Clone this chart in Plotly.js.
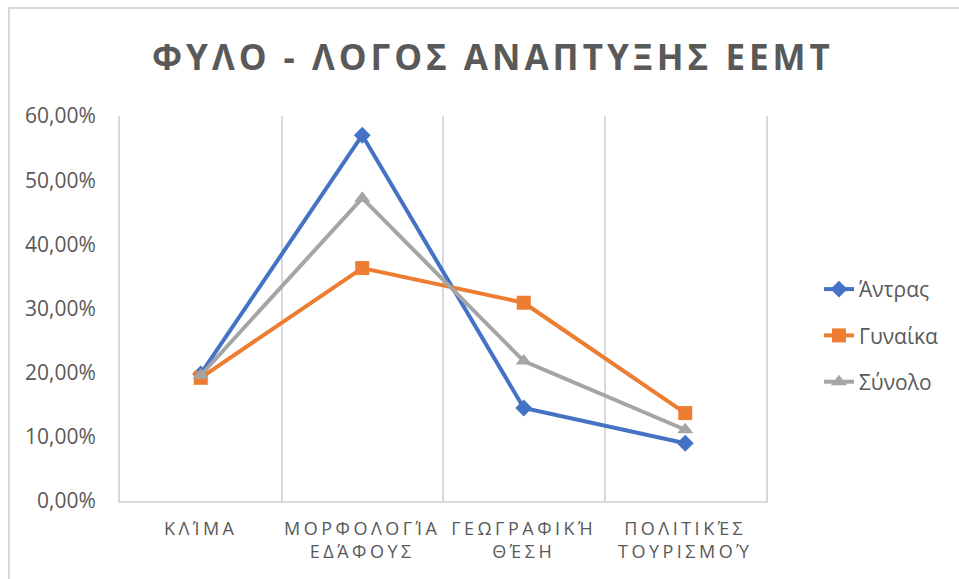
<!DOCTYPE html>
<html>
<head>
<meta charset="utf-8">
<script src="https://cdn.plot.ly/plotly-3.0.1.min.js"></script>
<style>
  body { margin: 0; padding: 0; background: #fff; }
  #wrap { position: relative; width: 959px; height: 579px; }
  #chart { position: absolute; left: 0; top: 0; width: 959px; height: 579px; }
  #frame { position: absolute; left: 8px; top: 7px; width: 960px; height: 600px;
           border-left: 2px solid #d9d9d9; border-top: 2px solid #d9d9d9; pointer-events: none; }
  .gtitle { letter-spacing: 4px; }
  .xtick text { letter-spacing: 3.5px; }
</style>
</head>
<body>
<div id="wrap">
  <div id="chart"></div>
  <div id="frame"></div>
</div>
<script>
const categories = ["ΚΛΊΜΑ", "ΜΟΡΦΟΛΟΓΊΑ<br>ΕΔΆΦΟΥΣ", "ΓΕΩΓΡΑΦΙΚΉ<br>ΘΈΣΗ", "ΠΟΛΙΤΙΚΈΣ<br>ΤΟΥΡΙΣΜΟΎ"];
const seriesNames = ["Άντρας", "Γυναίκα", "Σύνολο"];
const andras = [0.198, 0.570, 0.145, 0.090];
const gynaika = [0.192, 0.363, 0.309, 0.137];
const synolo = [0.196, 0.472, 0.218, 0.111];
const yTicks = [0, 0.1, 0.2, 0.3, 0.4, 0.5, 0.6];

const fontFam = "'Open Sans', 'Noto Sans', sans-serif";
const textColor = "#595959";

const traces = [
  { x: categories, y: andras, name: seriesNames[0], type: "scatter", mode: "lines+markers", legendgroup: "a",
    line: { color: "#4472C4", width: 4 }, marker: { symbol: "diamond", size: 13, color: "#4472C4" } },
  { x: categories, y: gynaika, name: seriesNames[1], type: "scatter", mode: "lines+markers", legendgroup: "b",
    line: { color: "#ED7D31", width: 4 }, marker: { symbol: "square", size: 14, color: "#ED7D31" } },
  { x: categories, y: synolo, name: seriesNames[2], type: "scatter", mode: "lines+markers", legendgroup: "c",
    line: { color: "#A5A5A5", width: 4 }, marker: { symbol: "triangle-up", size: 14, color: "#A5A5A5" } }
];

const layout = {
  width: 959, height: 579,
  margin: { l: 120, r: 193, t: 116, b: 78 },
  paper_bgcolor: "rgba(0,0,0,0)",
  plot_bgcolor: "#fff",
  separators: ",.",
  hovermode: false,
  title: {
    text: "<b>ΦΥΛΟ - ΛΟΓΟΣ ΑΝΑΠΤΥΞΗΣ ΕΕΜΤ</b>",
    font: { family: fontFam, size: 35, color: textColor },
    x: 0.514, xanchor: "center", y: 0.9, yanchor: "middle", yref: "container"
  },
  xaxis: {
    type: "category",
    range: [-0.5, 3.5],
    tickson: "boundaries",
    showgrid: true, gridcolor: "#d9d9d9", gridwidth: 2,
    showline: true, linecolor: "#d9d9d9", linewidth: 2,
    ticks: "", zeroline: false, ticklabelstandoff: 10,
    tickfont: { family: fontFam, size: 18, color: textColor },
    fixedrange: true
  },
  yaxis: {
    range: [0, 0.6],
    tickvals: yTicks,
    tickformat: ".2%",
    showgrid: false, zeroline: false,
    showline: true, mirror: true, linecolor: "#d9d9d9", linewidth: 2,
    ticks: "", ticklabelstandoff: 18,
    tickfont: { family: fontFam, size: 21, color: textColor },
    fixedrange: true
  },
  legend: {
    x: 1.082, xanchor: "left", y: 0.43, yanchor: "middle",
    font: { family: fontFam, size: 21, color: textColor },
    tracegroupgap: 16, itemwidth: 30,
    bgcolor: "rgba(0,0,0,0)"
  },
  showlegend: true
};

Plotly.newPlot("chart", traces, layout, { displayModeBar: false, staticPlot: true });
</script>
</body>
</html>
